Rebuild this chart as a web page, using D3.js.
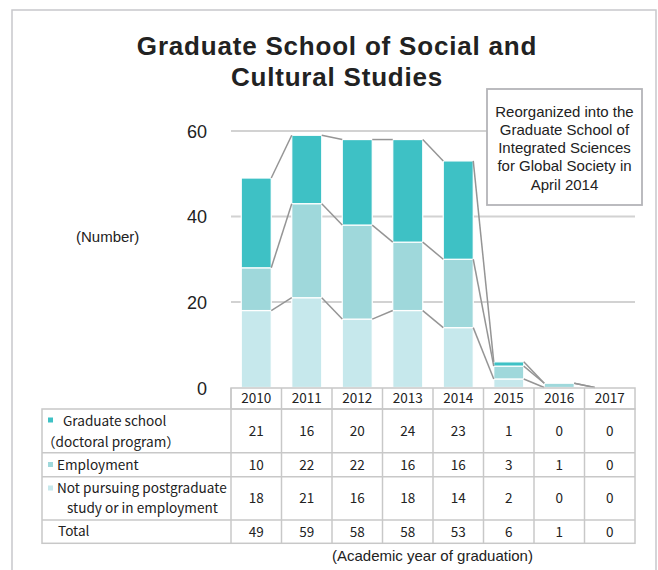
<!DOCTYPE html>
<html><head><meta charset="utf-8">
<script src="https://cdn.jsdelivr.net/npm/d3@7"></script>
<style>html,body{margin:0;padding:0;background:#fff;}svg{display:block;}</style>
</head><body>
<script>
const years = [2010, 2011, 2012, 2013, 2014, 2015, 2016, 2017];
const gradSchool = [21, 16, 20, 24, 23, 1, 0, 0];
const employment = [10, 22, 22, 16, 16, 3, 1, 0];
const notPursuing = [18, 21, 16, 18, 14, 2, 0, 0];
const totals = [49, 59, 58, 58, 53, 6, 1, 0];
const yTicks = [0, 20, 40, 60];
const seriesNames = ["Graduate school", "Employment", "Not pursuing postgraduate"];
const titleLines = ["Graduate School of Social and", "Cultural Studies"];
const noteLines = ["Reorganized into the", "Graduate School of", "Integrated Sciences", "for Global Society in", "April 2014"];

const W = 658, H = 570;
const colors = {grad: "#3ec1c5", emp: "#9fd8db", notp: "#c6e8ec"};
const svg = d3.select("body").append("svg").attr("width", W).attr("height", H);
const sans = "'Liberation Sans', Arial, sans-serif";

// outer frame
svg.append("path").attr("d", `M12,${H+5} V10 H656 V${H+5}`).attr("fill","none").attr("stroke","#c8c8cc").attr("stroke-width",1.5);

// title
svg.append("g").selectAll("text").data(titleLines).join("text")
  .attr("x", 337).attr("y", (d,i)=>55+i*31).attr("text-anchor","middle")
  .attr("font-family",sans).attr("font-weight","bold")
  .attr("font-size",26).attr("letter-spacing","0.8px").attr("fill","#222").text(d=>d);

const x = d3.scaleBand().domain(years).range([231, 635]).paddingInner(0).paddingOuter(0);
const bw = 30;
const y = d3.scaleLinear().domain([0, 60]).range([387.5, 131]);

// gridlines
svg.append("g").selectAll("line").data(yTicks.filter(t=>t>0)).join("line")
  .attr("x1", 231).attr("x2", 635).attr("y1", d=>y(d)).attr("y2", d=>y(d))
  .attr("stroke","#d2d2d2").attr("stroke-width",2);

// y axis labels
const yAxis = d3.axisLeft(y).tickValues(yTicks).tickSize(0).tickPadding(0);
const ga = svg.append("g").attr("transform","translate(207,0)").call(yAxis);
ga.select(".domain").remove();
ga.selectAll("text").attr("font-family",sans).attr("font-size",18).attr("fill","#222").attr("dy","0.35em");
ga.selectAll(".tick").filter(d=>d===0).select("text").attr("transform","translate(0,1)");

svg.append("text").attr("x",76).attr("y",242).attr("font-family",sans)
  .attr("font-size",15).attr("fill","#222").text("(Number)");

// stacked data
const rows = years.map((yr,i)=>({year:yr, notp:notPursuing[i], emp:employment[i], grad:gradSchool[i]}));
const stack = d3.stack().keys(["notp","emp","grad"])(rows);

const gBars = svg.append("g");
stack.forEach(layer=>{
  gBars.append("g").selectAll("rect").data(layer.filter(d=>d[1]>d[0])).join("rect")
    .attr("x", d=>x(d.data.year)+(x.bandwidth()-bw)/2)
    .attr("width", bw)
    .attr("y", d=>y(d[1]))
    .attr("height", d=>y(d[0])-y(d[1]))
    .attr("fill", colors[layer.key])
    .attr("stroke","#fff").attr("stroke-width",1.2);
});

// connector lines
const gConn = svg.append("g");
stack.forEach(layer=>{
  for(let i=0;i<years.length-1;i++){
    const a = layer[i], b = layer[i+1];
    if(a[1]===0 && b[1]===0) continue;
    gConn.append("line")
      .attr("x1", x(years[i])+(x.bandwidth()+bw)/2).attr("y1", y(a[1]))
      .attr("x2", x(years[i+1])+(x.bandwidth()-bw)/2).attr("y2", y(b[1]))
      .attr("stroke","#959595").attr("stroke-width",1.5);
  }
});

// annotation box
svg.append("rect").attr("x",487).attr("y",89).attr("width",155).attr("height",116)
  .attr("fill","#fff").attr("stroke","#b4b4b8").attr("stroke-width",1.8);
svg.append("g").selectAll("text").data(noteLines).join("text")
  .attr("x",564.5).attr("y",(d,i)=>116.5+i*18.3).attr("text-anchor","middle")
  .attr("font-family",sans).attr("font-size",15).attr("fill","#222").text(d=>d);

// table
const tFont = "'Noto Sans CJK JP', 'Noto Sans', sans-serif";
const lineCol = "#c8c8c8";
const rowY = [409, 452.7, 476.7, 520, 543.3];
const gT = svg.append("g");
gT.append("rect").attr("x",231).attr("y",388).attr("width",404).attr("height",21).attr("fill","none").attr("stroke",lineCol).attr("stroke-width",1.5);
years.forEach(yr=>{
  gT.append("line").attr("x1",x(yr)).attr("x2",x(yr)).attr("y1",388).attr("y2",543.3).attr("stroke",lineCol).attr("stroke-width",1.5);
  gT.append("text").attr("x",x(yr)+x.bandwidth()/2).attr("y",398.5).attr("dy","0.36em").attr("text-anchor","middle")
    .attr("font-family",tFont).attr("font-size",13.5).attr("fill","#222").text(yr);
});
gT.append("rect").attr("x",42).attr("y",409).attr("width",593).attr("height",134.3).attr("fill","none").attr("stroke",lineCol).attr("stroke-width",1.5);
rowY.slice(1,4).forEach(ry=>{
  gT.append("line").attr("x1",42).attr("x2",635).attr("y1",ry).attr("y2",ry).attr("stroke",lineCol).attr("stroke-width",1.5);
});
const tableRows = [gradSchool, employment, notPursuing, totals];
tableRows.forEach((vals,r)=>{
  const cy = (rowY[r]+rowY[r+1])/2;
  vals.forEach((v,i)=>{
    gT.append("text").attr("x",x(years[i])+x.bandwidth()/2).attr("y",cy).attr("dy","0.36em").attr("text-anchor","middle")
      .attr("font-family",tFont).attr("font-size",13.5).attr("fill","#222").text(v);
  });
});
const lbl = (txt, lx, ly) => gT.append("text").attr("x",lx).attr("y",ly).attr("dy","0.36em")
  .attr("font-family",tFont).attr("font-size",13.6).attr("fill","#222").text(txt);
const mk = (c, my) => gT.append("rect").attr("x",48).attr("y",my-2.5).attr("width",5).attr("height",5).attr("fill",c);
mk(colors.grad, 420); lbl(seriesNames[0], 63, 421.5); lbl("（doctoral program）", 42, 442.5);
mk(colors.emp, 464.5); lbl(seriesNames[1], 57, 464.7);
mk(colors.notp, 488); lbl(seriesNames[2], 57, 488); lbl("study or in employment", 67, 508);
lbl("Total", 58, 531.6);

svg.append("text").attr("x",332).attr("y",561).attr("font-family",sans)
  .attr("font-size",15).attr("fill","#222").text("(Academic year of graduation)");
</script>
</body></html>
